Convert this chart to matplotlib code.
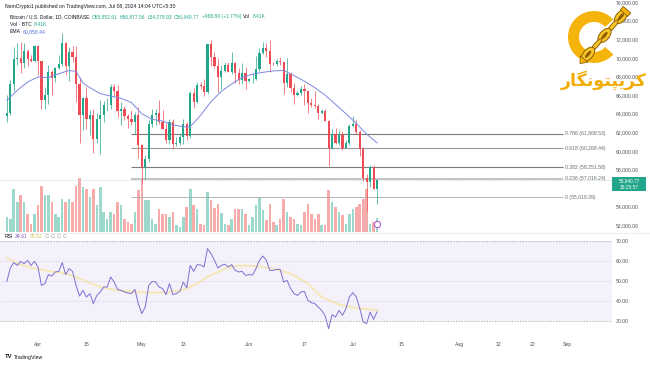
import matplotlib
matplotlib.use("Agg")
import matplotlib.pyplot as plt
import matplotlib.transforms as mtransforms
from matplotlib.patches import Wedge, Ellipse, Rectangle, Polygon
import numpy as np
import pandas as pd

plt.rcParams['font.family'] = ['Liberation Sans', 'DejaVu Sans']

# ---- data (BTC/USD daily, Coinbase) ----
dates = pd.date_range('2024-03-23', '2024-07-08', freq='D')

opens = [63800, 64040, 67210, 69880, 69990, 69450, 70740, 69890, 69650, 71330,
         69700, 65460, 65960, 68500, 67840, 68900, 69360, 71620, 69140, 70590,
         70060, 67190, 63820, 65740, 63430, 63810, 61280, 63470, 63820, 64940,
         64960, 66840, 66410, 64280, 64500, 63760, 63420, 63110, 63840, 60640,
         58250, 59120, 62890, 63890, 64030, 63160, 62330, 61190, 63070, 60790,
         60830, 61480, 62940, 61580, 66270, 65230, 67050, 66940, 66280, 71450,
         70140, 69120, 67950, 68550, 69280, 68510, 69400, 68370, 67620, 68350,
         67490, 67710, 67760, 68800, 70570, 71080, 70760, 69340, 69310, 69650,
         69510, 67330, 68240, 66760, 66010, 66190, 66640, 66490, 65140, 64960,
         64830, 64100, 64250, 63180, 60280, 61800, 60860, 61670, 60320, 60890,
         62680, 62850, 62030, 60180, 57060, 56660, 58230, 55850]
highs = [65970, 67600, 71150, 71550, 71730, 71550, 70950, 70330, 71370, 71340,
         69700, 66900, 69290, 68720, 69000, 70280, 72720, 71740, 71170, 71260,
         71230, 67930, 65820, 66880, 64360, 64480, 64110, 65480, 65390, 65690,
         67230, 67200, 67070, 65280, 64790, 63920, 64360, 64180, 64730, 60780,
         59600, 63310, 64490, 64500, 65500, 64390, 62990, 63410, 63460, 61450,
         61820, 63420, 63100, 66440, 66710, 67420, 67420, 67680, 71480, 71950,
         70630, 70040, 69220, 69590, 69540, 70600, 69560, 68910, 69500, 69020,
         67860, 68410, 70230, 71060, 71760, 71600, 71950, 69560, 69860, 70150,
         69560, 69960, 68450, 67300, 66400, 66990, 67200, 66570, 65700, 66440,
         65050, 64520, 64480, 63370, 62330, 62480, 62290, 62190, 61200, 62890,
         63800, 63280, 62290, 60450, 57500, 58480, 58450, 56877]
lows = [63070, 63820, 66400, 69280, 68380, 68900, 69080, 69560, 69600, 68110,
        64550, 64490, 65080, 66010, 67450, 68800, 69080, 68210, 67530, 69560,
        65300, 60800, 62200, 62330, 61720, 59770, 60830, 59650, 63130, 64280,
        64520, 65880, 63600, 62790, 63320, 62420, 62810, 61830, 59190, 56550,
        56940, 58850, 62590, 62820, 62900, 62310, 60880, 60760, 60200, 60500,
        60650, 60760, 61150, 61350, 64650, 65110, 66660, 65850, 66090, 69160,
        68900, 66350, 66630, 68510, 68450, 68220, 67300, 67150, 67150, 66670,
        67410, 67310, 67610, 68570, 70400, 70150, 68510, 69220, 69130, 69230,
        66100, 66900, 66300, 65080, 65890, 66040, 64960, 64080, 64690, 64560,
        63400, 63940, 63180, 58400, 60200, 60770, 60630, 60060, 60300, 60630,
        62550, 61770, 59440, 56770, 53530, 56070, 55850, 54279]
closes = [64040, 67210, 69880, 69990, 69450, 70740, 69890, 69650, 71330, 69700,
          65460, 65960, 68500, 67840, 68900, 69360, 71620, 69140, 70590, 70060,
          67190, 63820, 65740, 63430, 63810, 61280, 63470, 63820, 64940, 64960,
          66840, 66410, 64280, 64500, 63760, 63420, 63110, 63840, 60640, 58250,
          59120, 62890, 63890, 64030, 63160, 62330, 61190, 63070, 60790, 60830,
          61480, 62940, 61580, 66270, 65230, 67050, 66940, 66280, 71450, 70140,
          69120, 67950, 68550, 69280, 68510, 69400, 68370, 67620, 68350, 67490,
          67710, 67760, 68800, 70570, 71080, 70760, 69340, 69310, 69650, 69510,
          67330, 68240, 66760, 66010, 66190, 66640, 66490, 65140, 64960, 64830,
          64100, 64250, 63180, 60280, 61800, 60860, 61670, 60320, 60890, 62680,
          62850, 62030, 60180, 57060, 56660, 58230, 55850, 56841]
# volume, thousands of BTC
volumes = [9.0, 7.8, 25.8, 18.0, 22.2, 18.0, 10.8, 4.8, 10.8, 16.2,
           27.6, 22.2, 22.2, 18.0, 10.8, 9.0, 19.8, 18.0, 19.8, 18.0,
           27.6, 32.4, 27.0, 25.8, 21.0, 25.8, 16.2, 27.0, 12.0, 7.8,
           12.0, 10.8, 18.0, 16.2, 7.8, 6.0, 4.8, 12.0, 25.2, 31.2,
           19.2, 19.2, 7.8, 4.8, 13.8, 10.8, 10.8, 9.0, 12.0, 4.2,
           3.0, 9.0, 15.0, 25.8, 16.2, 13.8, 4.8, 4.2, 24.0, 19.2,
           14.4, 16.8, 11.4, 4.8, 4.2, 7.8, 13.8, 13.8, 13.8, 10.8,
           4.2, 9.0, 16.2, 21.0, 13.2, 7.2, 16.8, 6.0, 4.2, 7.8,
           19.8, 12.0, 9.0, 7.8, 4.8, 4.2, 12.0, 16.8, 10.8, 7.8,
           10.8, 4.2, 4.2, 25.2, 18.0, 15.0, 12.0, 10.2, 4.8, 10.8,
           13.8, 15.0, 16.8, 19.8, 25.8, 4.8, 6.0, 8.4]
rsi = [49.8, 56.5, 59.2, 57.8, 59.8, 58.7, 60.3, 57.8, 59.8, 57.0,
       47.8, 48.7, 53.2, 52.5, 54.5, 54.8, 59.2, 53.2, 56.2, 54.8,
       47.8, 42.5, 45.3, 42.0, 43.7, 38.7, 42.8, 44.5, 47.0, 47.0,
       52.0, 49.5, 45.8, 45.3, 44.5, 44.0, 43.7, 45.8, 38.7, 33.7,
       37.0, 47.8, 49.8, 49.5, 47.0, 46.2, 43.2, 48.7, 43.2, 43.7,
       44.8, 49.5, 46.5, 57.8, 54.8, 58.2, 58.0, 57.0, 66.2, 63.7,
       60.3, 56.5, 57.8, 58.4, 57.0, 58.2, 55.3, 54.5, 54.8, 52.8,
       53.2, 53.0, 56.2, 60.3, 62.5, 60.3, 55.3, 55.3, 55.8, 55.8,
       49.5, 50.3, 46.2, 43.7, 42.8, 44.5, 44.8, 40.3, 39.2, 38.7,
       37.0, 35.3, 32.5, 26.2, 33.2, 32.0, 35.3, 32.8, 36.2, 42.0,
       44.2, 42.0, 36.2, 29.5, 28.7, 34.5, 30.8, 34.6]

# EMA and RSI-MA (days from 1 Apr 2024)
ema_days = [-9, -6, -3, 0, 3, 6, 9, 11, 13, 15, 18, 21, 24, 27, 30, 33, 36, 39, 42,
            44, 47, 50, 53, 56, 59, 62, 65, 68, 71, 74, 77, 80, 83, 86, 89, 92, 95, 98]
ema_vals = [65440, 66500, 67400, 67950, 67880, 68300, 68650, 68550, 67300, 66800,
            66160, 65900, 65650, 65200, 64000, 63400, 63200, 62800, 62580, 62600,
            63830, 65300, 66400, 67200, 67900, 68250, 68450, 68600, 68650, 68100,
            67500, 66800, 66000, 65000, 64000, 62950, 61800, 60860]
rsi_ma_days = [-9, -6, -1, 3, 8, 13, 18, 23, 28, 32, 37, 42, 44, 47, 49, 54, 58,
               63, 68, 73, 78, 82, 87, 92, 96, 98]
rsi_ma_vals = [61.5, 58.7, 56.2, 55.0, 53.8, 50.5, 47.0, 45.3, 44.5, 44.2, 44.2,
               45.6, 47.0, 49.8, 52.0, 56.2, 57.8, 57.5, 56.2, 53.7, 48.7, 42.0,
               38.2, 36.5, 35.8, 35.5]

fib_names = ['0.786', '0.618', '0.382', '0.236', '0']
fib_prices = [61868.53, 60268.44, 58251.58, 57016.24, 55019.39]
last_price = 56840.77

tick_dates = ['2024-04-01', '2024-04-15', '2024-05-01', '2024-05-13', '2024-06-01',
              '2024-06-17', '2024-07-01', '2024-07-15', '2024-08-01', '2024-08-12',
              '2024-08-22', '2024-09-01']
tick_labels = ['Apr', '15', 'May', '13', 'Jun', '17', 'Jul', '15', 'Aug', '12', '22', 'Sep']
price_ticks = list(range(52000, 76001, 2000))
rsi_ticks = [30, 40, 50, 60, 70]

# ---- styling ----
UP, DOWN = '#22a68b', '#ef4b55'
VUP, VDOWN = '#9dd8cd', '#f7abaa'
TXT = '#50535e'
FS = 3.7

origin = pd.Timestamp('2024-04-01')
x = np.array((dates - origin).days)
xt = [(pd.Timestamp(d) - origin).days for d in tick_dates]
XLIM = (-10.98, 165.9)

fig = plt.figure(figsize=(6.5, 3.65), dpi=100)
rect_main = [0, 133 / 365, 612 / 650, 232 / 365]
rect_rsi = [0, 30 / 365, 612 / 650, 102 / 365]

# volume (behind the candles)
axv = fig.add_axes(rect_main)
vcols = [VUP if c >= o else VDOWN for o, c in zip(opens, closes)]
axv.bar(x, volumes, width=0.74, color=vcols, linewidth=0)
axv.set_xlim(*XLIM)
axv.set_ylim(0, 139.2)
axv.axis('off')

# price pane
ax = fig.add_axes(rect_main, sharex=axv)
ax.patch.set_visible(False)
cols = [UP if c >= o else DOWN for o, c in zip(opens, closes)]
ax.vlines(x, lows, highs, colors=cols, lw=0.5, zorder=3)
bottoms = np.minimum(opens, closes)
heights = np.maximum(np.abs(np.array(closes) - np.array(opens)), 40)
ax.bar(x, heights, bottom=bottoms, width=0.64, color=cols, linewidth=0, zorder=4)
ax.plot(ema_days, ema_vals, color='#7d88e0', lw=0.7, zorder=5)

fib_cols = ['#7a7a7a', '#9a9a9a', '#7a7a7a', '#b4b4b4', '#a8a8a8']
fib_lw = [0.8, 0.8, 0.8, 1.1, 0.6]
for name, p, c, w in zip(fib_names, fib_prices, fib_cols, fib_lw):
    ax.hlines(p, 27, 151.7, colors=c, lw=w, zorder=2)
    ax.text(152.3, p, f'{name} ({p:,.2f})', fontsize=FS, color='#6a6d78',
            va='center', ha='left')
ax.axhline(last_price, color='#a9cfc7', lw=0.5, ls=(0, (1, 1.2)), zorder=1)

ax.set_xlim(*XLIM)
ax.set_ylim(51280, 76226)
ax.yaxis.tick_right()
ax.set_yticks(price_ticks)
# the 56,000 label sits under the last-price tag
ax.set_yticklabels(['' if v == 56000 else f'{v:,.2f}' for v in price_ticks])
ax.tick_params(axis='y', length=0, pad=3, labelsize=FS, labelcolor=TXT)
ax.tick_params(axis='x', length=0, labelbottom=False)
for s in ax.spines.values():
    s.set_visible(False)

# event marker under the last candle
trans = mtransforms.blended_transform_factory(ax.transData, ax.transAxes)
ax.plot([x[-1]], [0.034], 'o', transform=trans, ms=4.5, mfc='white',
        mec='#a24bd0', mew=0.7, zorder=6, clip_on=False)

# RSI pane
ar = fig.add_axes(rect_rsi, sharex=axv)
ar.axhspan(30, 70, color='#7e57c2', alpha=0.08, lw=0)
for lv in (40, 50, 60):
    ar.axhline(lv, color='#e4def2', lw=0.5)
ar.axhline(70, color='#9598a1', lw=0.5, ls=(0, (2, 2)))
ar.axhline(30, color='#9598a1', lw=0.5, ls=(0, (2, 2)))
ar.plot(rsi_ma_days, rsi_ma_vals, color='#f5e08a', lw=1.4, alpha=0.6)
ar.plot(x, rsi, color='#7e6fd0', lw=0.7)
ar.set_xlim(*XLIM)
ar.set_ylim(23, 74)
ar.yaxis.tick_right()
ar.set_yticks(rsi_ticks)
ar.set_yticklabels([f'{v:.2f}' for v in rsi_ticks])
ar.set_xticks(xt)
ar.set_xticklabels(tick_labels)
ar.tick_params(axis='both', length=0, labelsize=FS, labelcolor=TXT)
ar.tick_params(axis='y', pad=3)
ar.tick_params(axis='x', pad=5)
for s in ar.spines.values():
    s.set_visible(False)

# ---- overlay in pixel coordinates: headers, logo, price tag ----
ov = fig.add_axes([0, 0, 1, 1])
ov.set_xlim(0, 650)
ov.set_ylim(365, 0)
ov.axis('off')
ov.set_zorder(10)


def text_run(x0, y0, parts, size=FS, gap=1.3):
    prev = None
    for s, col in parts:
        if prev is None:
            prev = ov.text(x0, y0, s, color=col, fontsize=size, va='center', ha='left')
        else:
            prev = ov.annotate(s, xy=(1, 0.5), xycoords=prev, xytext=(gap, 0),
                               textcoords='offset points', color=col, fontsize=size,
                               va='center', ha='left')


dark = '#131722'
green = '#22a68b'
text_run(5, 6.5, [('NemCrypto1 published on TradingView.com, Jul 08, 2024 14:04 UTC+5:30', dark)])
text_run(10, 16.5, [('Bitcoin / U.S. Dollar, 1D, COINBASE', dark), ('O55,852.61', green),
                    ('H56,877.56', green), ('L54,278.93', green), ('C56,840.77', green),
                    ('+988.69 (+1.77%)', green), ('Vol', dark), ('8.41K', green)],
         size=3.5, gap=1.6)
text_run(10, 24, [('Vol · BTC', dark), ('8.41K', green)])
text_run(10, 31.5, [('EMA', dark), ('60,858.44', '#5b6ee1')])
text_run(5, 236.5, [('RSI', dark), ('34.61', '#7e57c2'), ('35.52', '#d9c35a'),
                    ('\u2205 \u2205 \u2205 \u2205', '#9598a1')])

# pane separator
ov.plot([0, 650], [233, 233], color='#e6e8ee', lw=0.5)

# price tag
ov.add_patch(Rectangle((612, 176.5), 34, 14.5, facecolor=green, edgecolor='none'))
ov.text(629, 180.4, f'{last_price:,.2f}', color='white', fontsize=3.4, ha='center', va='center')
ov.text(629, 187.2, '15:25:57', color='white', fontsize=3.4, ha='center', va='center')

# TradingView mark
ov.text(5, 357, 'TV', fontsize=4.2, fontweight='bold', color=dark, va='center', ha='left')
ov.text(14, 357, 'TradingView', fontsize=3.8, color=dark, va='center', ha='left')

# logo: golden C with chain and Persian name
gold = '#f5b40c'
edge = '#8f5e00'
ov.add_patch(Wedge((594, 37), 26, 42, 318, width=11, facecolor=gold, edgecolor='none'))
p0 = np.array([625.0, 12.0])
p1 = np.array([584.0, 59.0])
ang = np.degrees(np.arctan2(p1[1] - p0[1], p1[0] - p0[0]))
for k, t in enumerate(np.linspace(0.1, 0.9, 5)):
    cx, cy = p0 + t * (p1 - p0)
    if k % 2 == 0:
        ov.add_patch(Ellipse((cx, cy), 17, 9.5, angle=ang, facecolor='#f8c52a',
                             edgecolor=edge, lw=0.7))
        ov.add_patch(Ellipse((cx, cy), 9, 3.2, angle=ang, facecolor=edge,
                             edgecolor='none'))
    else:
        ov.add_patch(Ellipse((cx, cy), 16, 4.2, angle=ang, facecolor='#f8c52a',
                             edgecolor=edge, lw=0.7))
d = (p1 - p0) / np.linalg.norm(p1 - p0)
nrm = np.array([-d[1], d[0]])
ov.add_patch(Polygon([p1 + d * 6, p1 + nrm * 5, p1 - nrm * 5], closed=True,
                     facecolor=gold, edgecolor=edge, lw=0.6))
ov.add_patch(Polygon([p0 - d * 3 + nrm * 5, p0 - d * 3 - nrm * 5, p0 + d * 1.5 - nrm * 5,
                      p0 + d * 1.5 + nrm * 5], closed=True, facecolor=gold,
                     edgecolor=edge, lw=0.6))
logo_name = '\uFEAD\uFE8E\uFB95\uFEE7\uFEEE\uFE98\uFB59\uFBFE\uFEAE\uFB90'
ov.text(604, 80, logo_name, fontsize=12.5, fontweight='bold', color='#f2ab00',
        ha='center', va='center', family=['DejaVu Sans'])

fig.savefig('out.png', dpi=100)
